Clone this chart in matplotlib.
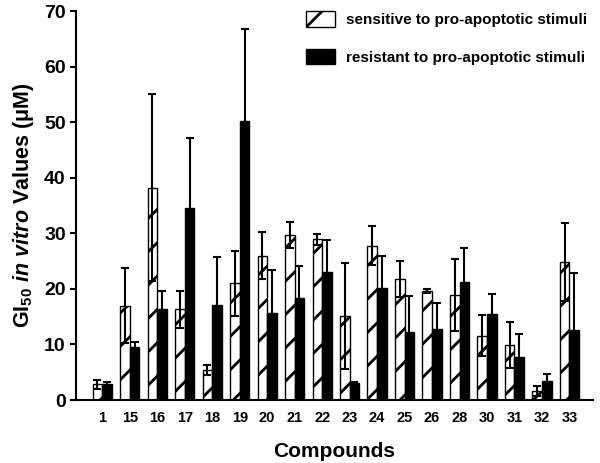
import matplotlib.pyplot as plt
import numpy as np

plt.rcParams['font.family'] = ['Liberation Sans', 'DejaVu Sans']
plt.rcParams['font.weight'] = 'bold'
plt.rcParams['mathtext.fontset'] = 'custom'
plt.rcParams['mathtext.rm'] = 'Liberation Sans:bold'
plt.rcParams['mathtext.it'] = 'Liberation Sans:italic:bold'
plt.rcParams['mathtext.bf'] = 'Liberation Sans:bold'
plt.rcParams['hatch.linewidth'] = 2.0

# data
compounds = ['1', '15', '16', '17', '18', '19', '20', '21', '22', '23',
             '24', '25', '26', '28', '30', '31', '32', '33']
sensitive = [2.8, 17.0, 38.2, 16.3, 5.4, 21.0, 26.0, 29.7, 28.9, 15.1,
             27.8, 21.8, 19.6, 18.9, 11.6, 9.9, 1.7, 24.9]
sensitive_err = [0.8, 6.8, 16.8, 3.4, 0.9, 5.8, 4.2, 2.3, 1.0, 9.5,
                 3.5, 3.2, 0.4, 6.5, 3.7, 4.2, 0.9, 7.0]
resistant = [2.8, 9.5, 16.3, 34.5, 17.1, 50.3, 15.7, 18.3, 23.0, 3.0,
             20.2, 12.2, 12.7, 21.3, 15.5, 7.7, 3.5, 12.6]
resistant_err = [0.5, 1.0, 3.3, 12.7, 8.6, 16.5, 7.7, 5.9, 5.8, 0.3,
                 5.7, 6.5, 4.8, 6.1, 3.5, 4.1, 1.2, 10.3]

x = np.arange(len(compounds))
w = 0.35

fig = plt.figure(figsize=(6, 4.63), dpi=100)
ax = fig.add_axes([0.127, 0.136, 0.861, 0.84])

err_kw = dict(ecolor='black', elinewidth=1.5, capsize=3, capthick=1.5)
ax.bar(x - w / 2, sensitive, w, yerr=sensitive_err, color='white',
       edgecolor='black', linewidth=1, hatch='/', error_kw=err_kw,
       label='sensitive to pro-apoptotic stimuli')
ax.bar(x + w / 2, resistant, w, yerr=resistant_err, color='black',
       edgecolor='black', linewidth=1, error_kw=err_kw,
       label='resistant to pro-apoptotic stimuli')

ax.set_xlim(-0.95, 17.85)
ax.set_ylim(0, 70)
ax.set_yticks(range(0, 71, 10))
ax.set_xticks(x)
ax.set_xticklabels(compounds, fontsize=10.5, fontweight='bold')
ax.tick_params(axis='x', length=0, pad=8)
ax.tick_params(axis='y', labelsize=14, width=1.5, length=4)
for lab in ax.get_yticklabels():
    lab.set_fontweight('bold')

ax.spines['top'].set_visible(False)
ax.spines['right'].set_visible(False)
ax.spines['left'].set_linewidth(1.5)
ax.spines['bottom'].set_linewidth(1.5)

ax.set_xlabel('Compounds', fontsize=15, fontweight='bold', labelpad=12)
ax.set_ylabel(r'GI$_{50}$ $\it{in\ vitro}$ Values (μM)', fontsize=15.5,
              fontweight='bold', labelpad=6)

leg = ax.legend(loc='upper right', bbox_to_anchor=(1.015, 1.035), frameon=False,
                handlelength=1.9, handleheight=1.2, handletextpad=0.7,
                labelspacing=1.4, prop={'weight': 'bold', 'size': 11})

fig.savefig('out.png', dpi=100)
